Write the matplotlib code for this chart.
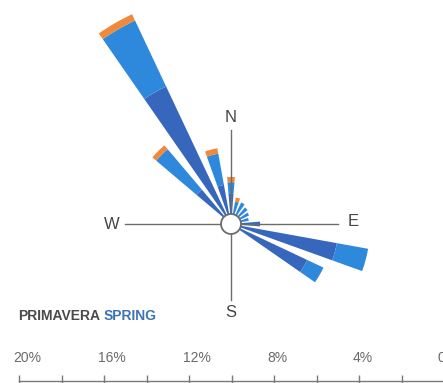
import numpy as np
import matplotlib
matplotlib.use("Agg")
import matplotlib.pyplot as plt
from matplotlib.patches import Circle
from matplotlib.transforms import blended_transform_factory

plt.rcParams['font.family'] = ['Liberation Sans', 'DejaVu Sans']

# wind directions (deg, clockwise from N) and frequency (%) per speed class
directions = [315, 330, 345, 0, 15, 30, 45, 60, 75, 90, 105, 120]
low_speed  = [1.65, 6.7, 1.4, 0.95, 0.0, 0.0, 0.0, 0.0, 0.0, 0.9, 4.6, 3.5]
mid_speed  = [2.5, 3.44, 1.5, 0.55, 0.6, 0.65, 0.55, 0.47, 0.38, 0.0, 1.5, 0.85]
high_speed = [0.24, 0.33, 0.26, 0.25, 0.2, 0.0, 0.0, 0.0, 0.0, 0.0, 0.0, 0.0]

scale_ticks = [20, 18, 16, 14, 12, 10, 8, 6, 4, 2, 0]
scale_labels = ["20%", "16%", "12%", "8%", "4%", "0"]
scale_label_vals = [20, 16, 12, 8, 4, 0]

W, H = 443, 383
fig = plt.figure(figsize=(W / 100, H / 100), dpi=100)
fig.patch.set_facecolor("white")

# polar rose, centre at pixel (231, 224), 1% = 21.2 px, calm circle r = 10 px
cx, cy = 231, 224
px_per_pct = 21.2
calm_px = 10
R = 240
ax = fig.add_axes([(cx - R) / W, (H - cy - R) / H, 2 * R / W, 2 * R / H], projection="polar")
ax.set_theta_zero_location("N")
ax.set_theta_direction(-1)
r0 = calm_px / px_per_pct
ax.set_rorigin(-r0)
ax.set_rlim(0, R / px_per_pct - r0)
ax.set_axis_off()

theta = np.radians(directions)
width = np.radians(9.5)
low = np.array(low_speed)
mid = np.array(mid_speed)
high = np.array(high_speed)
ax.bar(theta, low, width=width, bottom=0, color="#3767bd", linewidth=0)
ax.bar(theta, mid, width=width, bottom=low, color="#2e88dc", linewidth=0)
ax.bar(theta, high, width=width, bottom=low + mid, color="#ef8a3d", linewidth=0)

# compass cross
line_col = "#6b6b6b"
for ang, length in [(0, 3.96), (90, 4.58), (180, 3.11), (270, 4.53)]:
    ax.plot([np.radians(ang)] * 2, [0, length], color=line_col, lw=1.0, zorder=5)
for lab, ang, r in [("N", 0, 4.55), ("E", 89, 5.28), ("S", 180, 3.72), ("W", 270, 5.17)]:
    ax.text(np.radians(ang), r, lab, fontsize=12, color="#454545",
            ha="center", va="center", zorder=6)

ax.add_patch(Circle((0.5, 0.5), calm_px / (2 * R), transform=ax.transAxes,
                    facecolor="white", edgecolor=line_col, lw=1.3, zorder=7, clip_on=False))

# title
t1 = fig.text(18 / W, 1 - 316.5 / H, "PRIMAVERA", fontsize=10, fontweight="bold",
              color="#4a4a4a", ha="left", va="center")
fig.canvas.draw()
bb = t1.get_window_extent(fig.canvas.get_renderer())
fig.text((bb.x1 + 4) / W, 1 - 316.5 / H, "SPRING", fontsize=10, fontweight="bold",
         color="#3d73b5", ha="left", va="center")

# percentage scale
x0, x20 = 444.2, 19.3
sax = fig.add_axes([x20 / W, (H - 381) / H, (x0 - x20) / W, 0.1])
sax.set_xlim(20, 0)
sax.set_ylim(0, 1)
sax.patch.set_alpha(0)
for s in ["top", "left", "right"]:
    sax.spines[s].set_visible(False)
sax.spines["bottom"].set_color("#7a7a7a")
sax.spines["bottom"].set_linewidth(1.0)
sax.set_yticks([])
sax.set_xticks(scale_ticks)
sax.set_xticklabels([])
sax.tick_params(axis="x", direction="inout", length=8, width=1.0, color="#7a7a7a")
tr = blended_transform_factory(sax.transData, fig.transFigure)
for v, lab in zip(scale_label_vals, scale_labels):
    sax.text(v + 0.3, 1 - 357.5 / H, lab, transform=tr, fontsize=10,
             color="#6a6a6a", ha="left", va="center", clip_on=False)

fig.savefig("out.png", dpi=100)
